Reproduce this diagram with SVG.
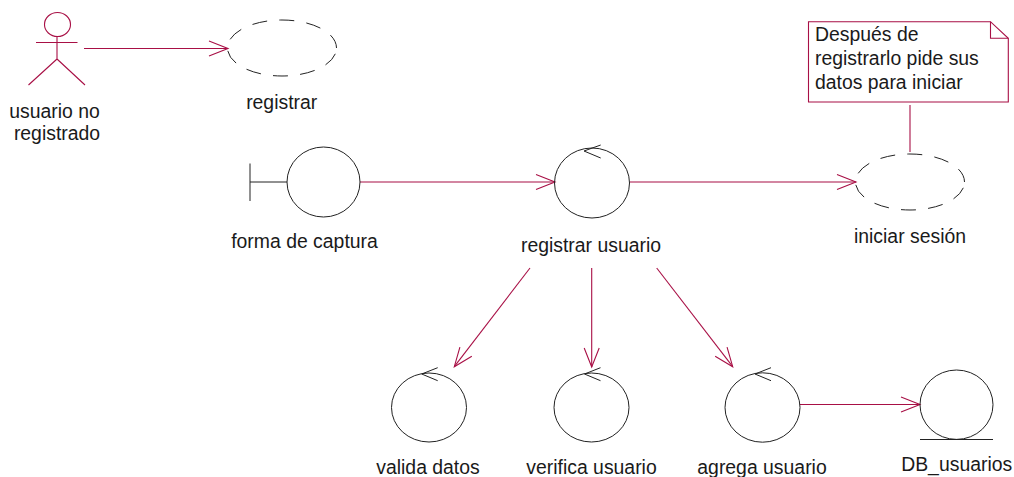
<svg xmlns="http://www.w3.org/2000/svg" width="1014" height="477" viewBox="0 0 1014 477">
<style>
text{font-family:"Liberation Sans",Arial,sans-serif;font-size:19.4px;fill:#1a1a1a;text-anchor:middle}
.s{text-anchor:start}
.n{fill:none;stroke:#222;stroke-width:1}
.d{stroke-dasharray:15 12.2;stroke-dashoffset:-6}
.a{fill:none;stroke:#a80f45;stroke-width:1.1}
.c{marker-end:url(#o)}
</style>
<defs>
<marker id="o" markerUnits="userSpaceOnUse" markerWidth="24" markerHeight="20" refX="20" refY="8" orient="auto" viewBox="0 0 24 16">
<path d="M1 0.500L20 8L1 15.500" fill="none" stroke="#a80f45" stroke-width="1.1"/>
</marker>
</defs>
<rect width="1014" height="477" fill="#fff"/>
<g id="connectors">
<path class="a c" d="M84 48.500H228"/>
<path class="a c" d="M360 182H555"/>
<path class="a c" d="M630 182H856"/>
<path class="a c" d="M530 268L454.300 366.700"/>
<path class="a c" d="M591.700 268V367"/>
<path class="a c" d="M656.700 268L732.700 366.700"/>
<path class="a c" d="M800 404.500H920"/>
<path class="a" d="M910 105V152"/>
</g>
<g id="actor">
<ellipse class="a" cx="57.500" cy="24.500" rx="13" ry="12"/>
<path class="a" d="M57 36.500V59M36 42.500H77.500M57 59L28.500 85M57 59L85 85"/>
<text x="54.500" y="117.500">usuario no</text>
<text x="57" y="140.300">registrado</text>
</g>
<g id="registrar">
<ellipse class="n d" cx="282" cy="48" rx="54.500" ry="28"/>
<text x="281.700" y="109.300">registrar</text>
</g>
<g id="forma">
<ellipse class="n" cx="323.500" cy="182" rx="36.500" ry="35"/>
<path class="n" d="M250 163.500V201M250 182H287"/>
<text x="304.500" y="248">forma de captura</text>
</g>
<g id="registrar-usuario">
<ellipse class="n" cx="592" cy="183" rx="37.500" ry="35"/>
<path class="n" d="M600.700 145L584 151L600.700 158"/>
<text x="591" y="251.700">registrar usuario</text>
</g>
<g id="nota">
<path class="a" fill="#fff" d="M808.500 21.700H990.500L1008.300 38.300V102H808.500Z"/>
<path class="a" d="M990.500 21.700V38.300H1008.300"/>
<text class="s" x="815" y="41">Después de</text>
<text class="s" x="815" y="65.300">registrarlo pide sus</text>
<text class="s" x="815" y="88.700">datos para iniciar</text>
</g>
<g id="iniciar">
<ellipse class="n d" cx="910" cy="182" rx="54.500" ry="28"/>
<text x="910" y="242.500">iniciar sesión</text>
</g>
<g id="valida">
<ellipse class="n" cx="429" cy="407.500" rx="37.500" ry="34.500"/>
<path class="n" d="M437.700 367.700L421.700 374L437.700 380.700"/>
<text x="428" y="474">valida datos</text>
</g>
<g id="verifica">
<ellipse class="n" cx="591.500" cy="407.500" rx="37.500" ry="34.500"/>
<path class="n" d="M600.500 367.700L584.500 374L600.500 380.700"/>
<text x="591.500" y="474">verifica usuario</text>
</g>
<g id="agrega">
<ellipse class="n" cx="762.500" cy="407.500" rx="37.500" ry="34.700"/>
<path class="n" d="M771 367.700L755 374L771 380.700"/>
<text x="762" y="474">agrega usuario</text>
</g>
<g id="db">
<ellipse class="n" cx="956.500" cy="404.700" rx="36.500" ry="34.700"/>
<path class="n" d="M920 439.500H993"/>
<text x="956.700" y="470.500">DB_usuarios</text>
</g>
</svg>
